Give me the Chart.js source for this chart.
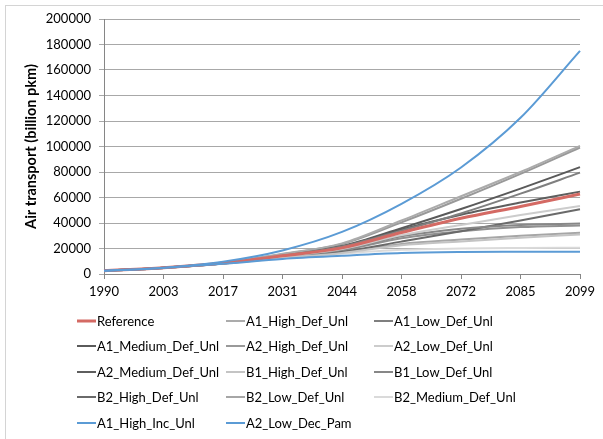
<!DOCTYPE html>
<html>
<head>
<meta charset="utf-8">
<script src="https://cdn.jsdelivr.net/npm/chart.js@4.4.1/dist/chart.umd.min.js"></script>
<style>
  html, body { margin: 0; padding: 0; background: #fff; }
  body { width: 603px; height: 439px; position: relative; overflow: hidden; font-family: Lato, "Open Sans", sans-serif; }
  #frame { position: absolute; left: 5px; top: 5px; width: 700px; height: 600px; border: 1px solid #d4d4d4; box-sizing: border-box; }
  #wrap { position: absolute; left: 0; top: 0; width: 603px; height: 439px; }
  #legend { position: absolute; left: 0; top: 0; width: 603px; height: 439px; pointer-events: none; }
  .li { position: absolute; height: 16px; font-size: 13px; line-height: 16px; color: #000; white-space: nowrap; }
  .sw { position: absolute; left: 0; top: 50%; width: 19px; transform: translateY(-50%); }
  .tx { position: absolute; left: 20px; top: 0; }
</style>
</head>
<body>
<div id="frame"></div>
<div id="wrap"><canvas id="c" width="603" height="439"></canvas></div>
<div id="legend"></div>
<script>
// ---- data ----
const years = ["1990", "2003", "2017", "2031", "2044", "2058", "2072", "2085", "2099"];

const reference        = [2500, 4900, 8600, 14300, 20500, 32500, 43700, 53000, 62700];
const a1HighDefUnl     = [2500, 4900, 8700, 15800, 24000, 42000, 61000, 80000, 100500];
const a1LowDefUnl      = [2500, 4900, 8600, 14600, 21500, 34000, 47500, 63000, 79500];
const a1MediumDefUnl   = [2500, 4900, 8600, 14900, 22000, 36000, 51000, 67000, 83800];
const a2HighDefUnl     = [2500, 4900, 8700, 15500, 23500, 40500, 59000, 78500, 99200];
const a2LowDefUnl      = [2500, 4800, 8400, 13800, 19500, 30500, 38500, 46300, 53400];
const a2MediumDefUnl   = [2500, 4900, 8600, 14800, 21500, 35000, 46500, 56000, 64600];
const b1HighDefUnl     = [2500, 4800, 8200, 12600, 16500, 22500, 25500, 28500, 31000];
const b1LowDefUnl      = [2500, 4800, 8300, 13500, 19000, 29500, 35500, 38500, 39600];
const b1MediumDefUnl   = [2500, 4800, 8300, 13200, 18500, 28000, 33500, 36800, 38100];
const b2HighDefUnl     = [2500, 4800, 8300, 13000, 17500, 25400, 33500, 42000, 50800];
const b2LowDefUnl      = [2500, 4800, 8200, 12800, 17000, 23500, 27000, 30000, 32400];
const b2MediumDefUnl   = [2500, 4800, 8200, 12500, 16000, 19000, 20000, 20400, 20600];
const a1HighIncUnl     = [2500, 5000, 9700, 18500, 33000, 55000, 83500, 122500, 175000];
const a2LowDecPam      = [2500, 4800, 8000, 11800, 14300, 16400, 17200, 17400, 17500];

const yTicks = [0, 20000, 40000, 60000, 80000, 100000, 120000, 140000, 160000, 180000, 200000];

// ---- series definitions (style) ----
const series = [
  { label: "Reference",          data: reference,      color: "#d46a64", w: 3,   order: 1, legend: [0, 0] },
  { label: "A1_High_Def_Unl",    data: a1HighDefUnl,   color: "#ababab", w: 2,   order: 2, legend: [1, 0] },
  { label: "A1_Low_Def_Unl",     data: a1LowDefUnl,    color: "#7f7f7f", w: 2,   order: 2, legend: [2, 0] },
  { label: "A1_Medium_Def_Unl",  data: a1MediumDefUnl, color: "#5a5a5a", w: 2,   order: 2, legend: [0, 1] },
  { label: "A2_High_Def_Unl",    data: a2HighDefUnl,   color: "#999999", w: 2,   order: 2, legend: [1, 1] },
  { label: "A2_Low_Def_Unl",     data: a2LowDefUnl,    color: "#cccccc", w: 2,   order: 2, legend: [2, 1] },
  { label: "A2_Medium_Def_Unl",  data: a2MediumDefUnl, color: "#5e5e5e", w: 2,   order: 2, legend: [0, 2] },
  { label: "B1_High_Def_Unl",    data: b1HighDefUnl,   color: "#c4c4c4", w: 2,   order: 2, legend: [1, 2] },
  { label: "B1_Low_Def_Unl",     data: b1LowDefUnl,    color: "#878787", w: 2,   order: 2, legend: [2, 2] },
  { label: "B2_High_Def_Unl",    data: b2HighDefUnl,   color: "#6a6a6a", w: 2,   order: 2, legend: [0, 3] },
  { label: "B2_Low_Def_Unl",     data: b2LowDefUnl,    color: "#a6a6a6", w: 2,   order: 2, legend: [1, 3] },
  { label: "B2_Medium_Def_Unl",  data: b2MediumDefUnl, color: "#dadada", w: 2,   order: 2, legend: [2, 3] },
  { label: "B1_Medium_Def_Unl",  data: b1MediumDefUnl, color: "#909090", w: 2,   order: 2, legend: null },
  { label: "A1_High_Inc_Unl",    data: a1HighIncUnl,   color: "#5b9bd5", w: 2,   order: 0, legend: [0, 4] },
  { label: "A2_Low_Dec_Pam",     data: a2LowDecPam,    color: "#5b9bd5", w: 2,   order: 0, legend: [1, 4] }
];

const FONT = "Lato, 'Open Sans', sans-serif";

new Chart(document.getElementById("c"), {
  type: "line",
  data: {
    labels: years,
    datasets: series.map(s => ({
      label: s.label,
      data: s.data,
      borderColor: s.color,
      backgroundColor: s.color,
      borderWidth: s.w,
      pointRadius: 0,
      fill: false,
      order: s.order,
      cubicInterpolationMode: "monotone"
    }))
  },
  options: {
    responsive: false,
    animation: false,
    events: [],
    layout: { padding: { left: 0, top: 19, right: 23, bottom: 0 } },
    plugins: { legend: { display: false }, tooltip: { enabled: false } },
    scales: {
      x: {
        type: "category",
        offset: false,
        grid: { display: true, drawOnChartArea: false, drawTicks: true, tickLength: 5, color: "#868686", offset: false },
        border: { display: true, color: "#868686", width: 1 },
        ticks: { color: "#000", font: { family: FONT, size: 13 }, padding: 5, maxRotation: 0, autoSkip: false },
        afterFit: s => { s.height = 439 - 274; }
      },
      y: {
        min: 0, max: 200000,
        afterBuildTicks: s => { s.ticks = yTicks.map(v => ({ value: v })); },
        grid: { color: "#a8a8a8", lineWidth: 1, tickLength: 5, drawTicks: true },
        border: { display: true, color: "#868686", width: 1 },
        ticks: { color: "#000", font: { family: FONT, size: 13 }, padding: 8, callback: v => String(v) },
        title: { display: true, text: "Air transport (billion pkm)", color: "#000", font: { family: FONT, size: 14.5, weight: "bold" }, padding: { top: 23, bottom: 0 } },
        afterFit: s => { s.width = 104; }
      }
    }
  }
});

// ---- legend (HTML text, laid out in three columns) ----
const colX = [77, 226, 374];
const rowY = [321, 346, 372, 397, 423];
const lg = document.getElementById("legend");
series.forEach(s => {
  if (!s.legend) return;
  const d = document.createElement("div");
  d.className = "li";
  d.style.left = colX[s.legend[0]] + "px";
  d.style.top = (rowY[s.legend[1]] - 8) + "px";
  const sw = document.createElement("div");
  sw.className = "sw";
  sw.style.height = (s.w === 3 ? 3 : 2) + "px";
  sw.style.background = s.color;
  const tx = document.createElement("span");
  tx.className = "tx";
  tx.textContent = s.label;
  d.appendChild(sw); d.appendChild(tx);
  lg.appendChild(d);
});
</script>
</body>
</html>
